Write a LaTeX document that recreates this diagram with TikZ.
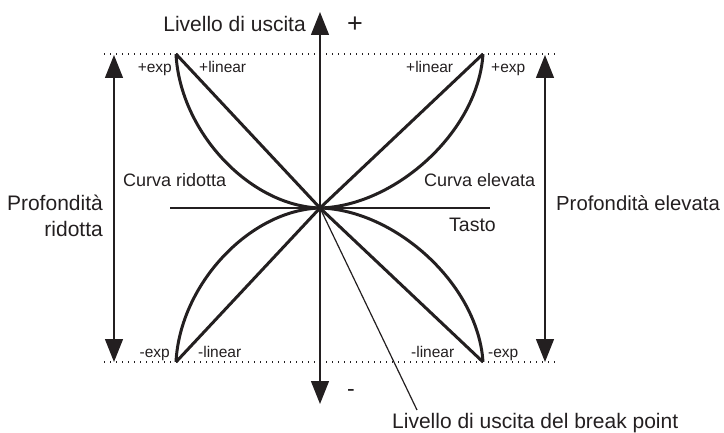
\documentclass[tikz,border=0pt]{standalone}
\usepackage{fontspec}
\setmainfont{Liberation Sans}
\usetikzlibrary{arrows.meta}
\definecolor{ink}{HTML}{231F20}
\tikzset{
  big/.style={font=\fontsize{21}{25}\selectfont, text=ink, inner sep=0pt},
  mid/.style={font=\fontsize{18}{22}\selectfont, text=ink, inner sep=0pt},
  small/.style={font=\fontsize{15.5}{18}\selectfont, text=ink, inner sep=0pt},
  thin/.style={draw=ink, line width=1.2pt},
  curve/.style={draw=ink, line width=3pt, line join=miter},
  dots/.style={draw=ink, line width=1.4pt, dash pattern=on 1.4pt off 4.6pt},
  dbl/.style={draw=ink, line width=1.3pt, {Triangle[length=23pt,width=18pt]}-{Triangle[length=23pt,width=18pt]}}
}
\begin{document}
\begin{tikzpicture}[x=1pt,y=-1pt]
\useasboundingbox (0,0) rectangle (724,433);
% key points
\coordinate (c) at (320,208);
\coordinate (tl) at (176,54);
\coordinate (bl) at (176,362);
\coordinate (tr) at (483,54);
\coordinate (br) at (483,362);
\coordinate (dtl) at (104,54);
\coordinate (dtr) at (555,54);
\coordinate (dbl) at (104,362);
\coordinate (dbr) at (555,362);
\coordinate (ytop) at (320,12);
\coordinate (ybot) at (320,404);
\coordinate (xl) at (170,208);
\coordinate (xr) at (490,208);
\coordinate (lat) at (114,55);
\coordinate (lab) at (114,362);
\coordinate (rat) at (545,55);
\coordinate (rab) at (545,362);
\coordinate (lead) at (417,410);
% dotted limits
\draw[dots] (dtl) -- (dtr);
\draw[dots] (dbl) -- (dbr);
% axes
\draw[dbl] (ybot) -- (ytop);
\draw[thin, line width=1.4pt] (xl) -- (xr);
% depth arrows
\draw[dbl] (lab) -- (lat);
\draw[dbl] (rab) -- (rat);
% linear lines
\draw[curve] (tl) -- (c) -- (br);
\draw[curve] (bl) -- (c) -- (tr);
% exp curves
\draw[curve] (tl) .. controls (180,132) and (250,206) .. (c);
\draw[curve] (bl) .. controls (180,284) and (250,210) .. (c);
\draw[curve] (c) .. controls (395,206) and (478,132) .. (tr);
\draw[curve] (c) .. controls (395,210) and (478,284) .. (br);
% break point leader
\draw[thin] (c) -- (lead);
% labels
\node[big, anchor=base east] (lout) at (306,32) {Livello di uscita};
\node[big, font=\fontsize{27}{30}\selectfont] (plus) at (355,25) {+};
\node[big, font=\fontsize{23}{26}\selectfont] (minus) at (351,393) {-};
\node[small, anchor=base east] (pexpl) at (172,73) {+exp};
\node[small, anchor=base west] (plinl) at (199,73) {+linear};
\node[small, anchor=base west] (plinr) at (406,73) {+linear};
\node[small, anchor=base west] (pexpr) at (491,73) {+exp};
\node[small, anchor=base east] (mexpl) at (170,357) {-exp};
\node[small, anchor=base west] (mlinl) at (198,357) {-linear};
\node[small, anchor=base west] (mlinr) at (411,357) {-linear};
\node[small, anchor=base west] (mexpr) at (488,357) {-exp};
\node[mid, anchor=base west] (cr) at (123,187) {Curva ridotta};
\node[mid, anchor=base west] (ce) at (424,187) {Curva elevata};
\node[big, anchor=base west, font=\fontsize{19.5}{23}\selectfont] (tasto) at (449,232) {Tasto};
\node[big, anchor=base east] (pr1) at (103,211) {Profondità};
\node[big, anchor=base east] (pr2) at (103,237) {ridotta};
\node[big, anchor=base west, font=\fontsize{20.3}{24}\selectfont] (pe) at (556,211) {Profondità elevata};
\node[big, anchor=base west] (bp) at (392,428) {Livello di uscita del break point};
\end{tikzpicture}
\end{document}
